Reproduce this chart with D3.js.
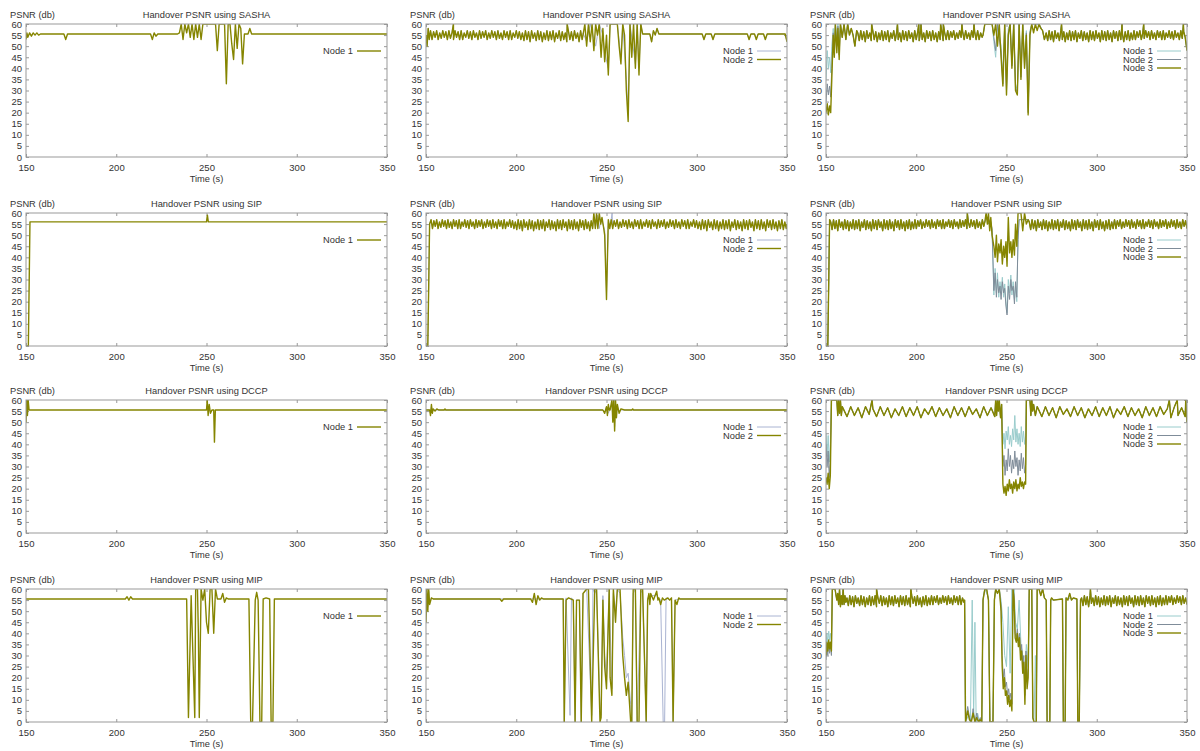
<!DOCTYPE html>
<html>
<head>
<meta charset="utf-8">
<script src="https://cdn.jsdelivr.net/npm/d3@7"></script>
<style>
  body { margin: 0; background: #fff; }
  svg text { font-family: "Liberation Sans", Arial, sans-serif; fill: #333; }
</style>
</head>
<body>
<div id="vis"></div>
<script>
// ---- labels / ticks ----
const protocols = ["SASHA", "SIP", "DCCP", "MIP"];
const nodeLabels = ["Node 1", "Node 2", "Node 3"];
const xTicks = [150, 200, 250, 300, 350];
const yTicks = [0, 5, 10, 15, 20, 25, 30, 35, 40, 45, 50, 55, 60];

// ---- oscillation samples (alternating high / low PSNR) ----
const T1 = [57,53,56.5,54,57,53,56,53.5,57,54,
  56.5,53,57,53.5,56,53,57,54,56.5,53,
  57,53,56,54,57,53.5,56.5,53,57,54,
  56,53,57,53.5,56.5,54,57,53,56,53.5,
  57,54,56.5,53,57,53.5,56,53,57,54,
  56.5,53,57,53,56,54,57,53.5,56.5,53];
const T2 = [56,52.5,57,53,56.5,52,57,53.5,56,52.5,
  57,53,56.5,52,56,53,57,52.5,56.5,53,
  57,52,56,53.5,57,52.5,56.5,53,56,52,
  57,53,56.5,52.5,57,53.5,56,52,57,53,
  56.5,52.5,57,53,56,52,57,53.5,56.5,52.5,
  57,53,56,52,56.5,53,57,52.5,56,53];
const T12 = T1.concat(T2);
const T21 = T2.concat(T1);

// place a run of samples evenly between two times
const spread = (t0, t1, vals) => vals.map((v, i) => [t0 + i * (t1 - t0) / (vals.length - 1), v]);
const series = (...parts) => parts.flat().sort((a, b) => a[0] - b[0]);

// ---- SASHA ----
const sasha1_n1 = [[150,53],[150.5,56],[151,54],[152,56],[153,54.5],[154,56],[155,55],[156,56],[157,55],[158,55.5],
  [171,55.5],[172,53],[173,55.5],[219,55.5],[220,53],[221,56],[222,54.5],[223,55.5],[234,55.5],[235,56],[236,60],
  [237,53],[238,60],[239,56],[240,60],[241,54],[242,60],[243,53],[244,60],[245,54],[246,60],[247,53],[248,60],
  [255,60],[256,48],[257,60],[260,60],[261,33],[262,60],[263,60],[264,51],[265,44],[266,60],[267,49],[268,60],
  [269,58],[270,42],[271,55.5],[273,55.5],[274,58],[275,55.5],[350,55.5]];

const sasha2_start = [[150,55],[150.6,50],[151.2,58],[151.8,53]];
const sasha2_teeth = spread(152.5, 236.5, T12.slice(0, 100));
const sasha2_spikes = [[165.2,60],[228.2,60]];
const sasha2_n1_mid = [[237,56],[239,52],[241,60],[244,50],[246,60],[248,55],[249,47],[251,40],[252,60],[256,60],
  [258,45],[259,60],[261,35],[262,20],[263,60],[266,42],[267,60],[268,40],[269,60],[270,55.5]];
const sasha2_n2_mid = [[237,55],[238,60],[239,50],[240,60],[241,52],[242,60],[243,48],[244,60],[245,55],[246,60],
  [247,45],[248,58],[249,43],[250,55],[251,37],[252,60],[256,60],[257,50],[258,42],[259,60],[260,55],[261,30],
  [262,16],[263,60],[264,45],[265,60],[266,40],[267,60],[268,37],[269,60],[270,55.5]];
const sasha2_tail = [[274,55.5],[275,52],[276,57],[277,55],[278,58],[279,55.5],[303,55.5],[304,53],[305,55.5],
  [308,55.5],[309,53],[310,55.5],[328,55.5],[329,53],[330,55.5],[332,55.5],[333,53],[334,55.5],[337,55.5],
  [338,53],[339,55.5],[349,55.5],[350,52]];
const sasha2_n1 = series(sasha2_start, sasha2_teeth, sasha2_spikes, sasha2_n1_mid, sasha2_tail);
const sasha2_n2 = series(sasha2_start, sasha2_teeth, sasha2_spikes, sasha2_n2_mid, sasha2_tail);

const sasha3_n1_start = [[150,35],[150.7,48],[151.3,40],[152,45],[152.6,38],[153.2,50],[154,58],[154.6,50],[155.2,60],[156,52],[156.6,60],[157.3,50]];
const sasha3_n2_start = [[150,25],[150.7,33],[151.3,28],[152,32],[152.6,27],[153.2,40],[154,56],[154.6,46],[155.2,60],[156,50],[156.6,59],[157.3,46]];
const sasha3_n3_start = [[150,20],[150.7,24],[151.3,19],[152,23],[152.6,20],[153.2,35],[154,55],[154.6,45],[155.2,60],[156,47],[156.6,58],[157.3,44]];
const sasha3_lead = [[158,60],[159,54],[160,60],[161,53],[162,60],[163,55],[164,58],[165,55],[166,50],[167,57]];
const sasha3_teeth = spread(167.6, 236.5, T21.slice(0, 84));
const sasha3_spikes = [[175.3,60],[189.6,60],[201.4,60],[202.6,60],[213.5,60],[215,60],[225.3,60],[232,60]];
const sasha3_n1_mid = [[237,55],[238,60],[242,60],[243,52],[244,45],[245,60],[247,50],[248,35],[249,60],[250,32],
  [251,58],[252,60],[253,42],[254,60],[255,33],[256,30],[257,60],[258,38],[259,60],[260,43],[261,57],[262,22],
  [263,57],[264,60],[266,60],[268,60],[270,57],[271,53]];
const sasha3_n2_mid = [[237,55],[238,60],[242,60],[243,54],[244,48],[245,60],[247,47],[248,33],[249,60],[250,30],
  [251,56],[252,60],[253,41],[254,60],[255,31],[256,29],[257,60],[258,36],[259,60],[260,41],[261,56],[262,20],
  [263,56],[264,60],[266,60],[268,60],[270,57],[271,53]];
const sasha3_n3_mid = [[237,55],[238,60],[242,60],[243,55],[244,60],[245,50],[246,60],[247,45],[248,32],[249,60],
  [250,28],[251,55],[252,60],[253,40],[254,60],[255,30],[256,28],[257,60],[258,35],[259,60],[260,40],[261,55],
  [262,19],[263,55],[264,60],[265,56],[266,60],[267,57],[268,60],[269,58],[270,57],[271,53]];
const sasha3_teeth2 = spread(272, 349, T21.slice(0, 96));
const sasha3_spikes2 = [[280.5,60],[314,60],[326,60],[348,60],[350,48]];
const sasha3_n1 = series(sasha3_n1_start, sasha3_lead, sasha3_teeth, sasha3_spikes, sasha3_n1_mid, sasha3_teeth2, sasha3_spikes2);
const sasha3_n2 = series(sasha3_n2_start, sasha3_lead, sasha3_teeth, sasha3_spikes, sasha3_n2_mid, sasha3_teeth2, sasha3_spikes2);
const sasha3_n3 = series(sasha3_n3_start, sasha3_lead, sasha3_teeth, sasha3_spikes, sasha3_n3_mid, sasha3_teeth2, sasha3_spikes2);

// ---- SIP ----
const sip1_n1 = [[150,0],[151.3,0],[152.2,56],[250,56],[250.5,59],[251,56],[350,56]];

const sip2_start = [[150,0],[151,0],[152,55]];
const sip2_teeth1 = spread(152.8, 242.3, T12.slice(0, 116));
const sip2_teeth2 = spread(252.6, 349.6, T12.slice(0, 120));
const sip2_n1_mid = [[243,58],[244,54],[245,59],[246,53],[247,57],[248,55],[249,52],[250,25],[251,56],[252,54],[253.1,60],[253.5,55]];
const sip2_n2_mid = [[243,60],[243.8,53],[244.5,60],[245.2,53],[246,60],[246.8,55],[247.5,58],[248.3,54],[249,50],[250,21],[251,57],[251.8,53]];
const sip2_n1 = series(sip2_start, sip2_teeth1, sip2_n1_mid, sip2_teeth2, [[350,55]]);
const sip2_n2 = series(sip2_start, sip2_teeth1, sip2_n2_mid, sip2_teeth2, [[350,55]]);

const sip3_start = [[150,0],[151,0],[152,57]];
const sip3_teeth1 = spread(152.6, 237.4, T21.slice(0, 110));
const sip3_spike = [[228.3,60]];
const sip3_n1_mid = [[238,56],[239,58],[240,55],[241,57],[242,52],[243,23],[243.7,35],[244.4,24],[245,33],[245.7,22],
  [246.4,29],[247,24],[247.7,31],[248.4,22],[249,28],[249.7,20],[250.3,15],[251,30],[251.7,24],[252.4,32],[253,23],
  [253.7,29],[254.4,21],[255,27],[255.7,20],[256.4,50],[257,57],[262,57]];
const sip3_n2_mid = [[238,56],[239,58],[240,55],[241,57],[242,53],[243,25],[243.7,33],[244.4,22],[245,30],[245.7,24],
  [246.4,27],[247,21],[247.7,29],[248.4,24],[249,26],[249.7,18],[250.3,14],[251,27],[251.7,21],[252.4,30],[253,25],
  [253.7,27],[254.4,19],[255,29],[255.7,22],[256.4,48],[257,57],[262,57]];
const sip3_n3_mid = [[238,56],[238.7,60],[239.4,55],[240,60],[240.7,52],[241.3,58],[242,50],[243,45],[243.7,40],
  [244.4,50],[245,38],[245.7,46],[246.4,42],[247,48],[247.7,37],[248.4,45],[249,40],[249.7,47],[250.3,36],[251,58],
  [251.7,42],[252.4,47],[253,40],[253.7,48],[254.4,41],[255,55],[255.7,45],[256.4,60],[258,60],[259,52],[260,60],
  [261,55],[262,57]];
const sip3_teeth2 = spread(262.6, 350, T21.slice(0, 112));
const sip3_n1 = series(sip3_start, sip3_teeth1, sip3_spike, sip3_n1_mid, sip3_teeth2);
const sip3_n2 = series(sip3_start, sip3_teeth1, sip3_spike, sip3_n2_mid, sip3_teeth2);
const sip3_n3 = series(sip3_start, sip3_teeth1, sip3_spike, sip3_n3_mid, sip3_teeth2);

// ---- DCCP ----
const dccp1_n1 = [[150,50],[150.4,60],[150.8,53],[151.2,60],[151.7,55.5],[250,55.5],[250.4,60],[250.9,53],[251.5,58],
  [252.2,54],[253,55.5],[254,55.5],[254.4,41],[254.9,55.5],[350,55.5]];

const dccp2_n1 = [[150,55.5],[152,55.5],[152.5,54],[153,57],[153.5,55],[154,55.5],[248,55.5],[249,54.5],[250,57],
  [251,54],[252,56],[253,59],[253.5,52],[254,60],[254.5,48],[255,58],[255.5,53],[256,57],[257,55],[258,55.5],[350,55.5]];
const dccp2_n2 = [[150,55.5],[152,55.5],[152.5,53],[153,58],[153.5,54],[154,56],[155,55],[156,56],[157,55.5],[160,55.5],
  [160.5,56],[161,55.5],[248,55.5],[249,54],[250,57],[250.5,53],[251,58],[251.5,55.5],[252,55.5],[253,60],[253.5,50],
  [254,60],[254.5,46],[255,60],[255.5,52],[256,58],[257,54],[258,56],[260,55.5],[264,55.5],[264.5,56],[265,55.5],[350,55.5]];

const dccp3_n1_start = [[150,45],[150.6,35],[151.2,44],[151.8,32],[152.4,40]];
const dccp3_n2_start = [[150,40],[150.6,30],[151.2,37],[151.8,25],[152.4,33]];
const dccp3_n3_start = [[150,25],[150.6,22],[151.2,27],[151.8,20],[152.4,26]];
const dccp3_lead = [[153,60],[156,60],[156.5,53],[157,60],[157.5,54],[158,60],[158.5,53],[159,57],[175.5,60]];
const dccp3_teeth1 = spread(159.6, 243.5, T2.slice(0, 42));
const dccp3_pre = [[244,60],[244.5,53],[245,60],[245.5,55],[246,60],[246.7,52],[247.3,58]];
const dccp3_n1_mid = [[248,40],[248.6,45],[249.2,38],[249.8,46],[250.4,42],[251,48],[251.6,40],[252.2,44],[252.8,39],
  [253.4,47],[254,42],[254.6,53],[255.2,41],[255.8,47],[256.4,40],[257,45],[257.6,39],[258.2,48],[258.8,41],
  [259.4,46],[260,40],[260.6,44],[261,60]];
const dccp3_n2_mid = [[248,30],[248.6,35],[249.2,26],[249.8,33],[250.4,28],[251,38],[251.6,30],[252.2,35],[252.8,27],
  [253.4,33],[254,29],[254.6,37],[255.2,30],[255.8,34],[256.4,26],[257,33],[257.6,28],[258.2,36],[258.8,29],
  [259.4,34],[260,27],[260.6,31],[261,60]];
const dccp3_n3_mid = [[248,22],[248.6,18],[249.2,21],[249.8,17],[250.4,22],[251,19],[251.6,24],[252.2,20],[252.8,22],
  [253.4,18],[254,23],[254.6,20],[255.2,24],[255.8,19],[256.4,22],[257,20],[257.6,25],[258.2,21],[258.8,23],
  [259.4,20],[260,23],[260.6,22],[261,60]];
const dccp3_post = [[263,60],[263.5,53],[264,60],[264.5,55],[265,58],[266,53],[267,57]];
const dccp3_teeth2 = spread(267.6, 349, T2.slice(0, 42));
const dccp3_end = [[340.2,60],[344.6,60],[349.3,60],[350,50]];
const dccp3_n1 = series(dccp3_n1_start, dccp3_lead, dccp3_teeth1, dccp3_pre, dccp3_n1_mid, dccp3_post, dccp3_teeth2, dccp3_end);
const dccp3_n2 = series(dccp3_n2_start, dccp3_lead, dccp3_teeth1, dccp3_pre, dccp3_n2_mid, dccp3_post, dccp3_teeth2, dccp3_end);
const dccp3_n3 = series(dccp3_n3_start, dccp3_lead, dccp3_teeth1, dccp3_pre, dccp3_n3_mid, dccp3_post, dccp3_teeth2, dccp3_end);

// ---- MIP ----
const mip1_n1 = [[150,55.5],[205,55.5],[206,56.5],[207,55],[208,56.5],[209,55.5],[239,55.5],[240,2],[241.5,57],
  [243.5,2],[244,60],[245,60],[245.5,40],[246,2],[247,60],[248,55],[249,60],[250,45],[251,40],[252,60],[253,60],
  [254,40],[255,60],[256,55.5],[258,55.5],[259,58],[260,54],[261,56],[262,55.5],[273.5,55.5],[274.5,0],[275.5,0],
  [277,55],[277.8,58.5],[278.6,55],[279.6,0],[280.6,0],[281.4,55.5],[283,56],[285,55.5],[285.8,0],[286.8,0],
  [287.6,55.5],[350,55.5]];

const mip2_n1 = [[150,48],[150.5,58],[151,52],[151.5,59],[152,54],[153,56],[154,55.5],[226,55.5],[226.6,0],[227.6,56],
  [229.8,3],[230.6,56],[231.6,55],[232.6,0],[233.4,55],[235,55],[236,0],[237,58],[239,60],[241.8,3],[242.5,60],
  [243.5,58],[244.5,60],[246.4,5],[247,3],[248,57],[249,30],[250,20],[251.5,60],[252.5,28],[253,15],[253.8,58],
  [255,50],[256,60],[257.5,58],[258.5,45],[259,38],[260,30],[261,20],[262,22],[263.4,8],[264,0],[264.8,58],
  [266,60],[267,0],[269,58],[270,60],[272,0],[272.8,56],[274.5,57],[277.8,57],[280,55],[281.4,0],[282.2,0],
  [283,56],[285,55],[286,56],[286.9,0],[288,55],[290.7,55.5],[350,55.5]];
const mip2_n2 = [[150,45],[150.5,60],[151,50],[151.5,60],[152,53],[153,56],[154,55.5],[191,55.5],[192,54.5],[193,55.5],
  [208,55.5],[209,54],[210,58],[211,53],[212,57],[213,55],[214,56],[215,55.5],[226,55.5],[226.6,0],[227.6,55],
  [229,56],[231.6,55],[232.6,0],[233.4,55],[235,55],[236,0],[237,58],[239,60],[240,60],[241.8,0],[243.5,60],
  [244.5,60],[246.4,0],[247,2],[248,55],[249,25],[250,15],[251.5,60],[252,20],[253,12],[253.8,60],[255,45],
  [256,60],[257.5,60],[258.5,40],[259,30],[260,20],[261,12],[262,18],[263.4,0],[264,0],[264.8,60],[266,60],
  [267,0],[268,0],[269,60],[270,60],[272,0],[272.8,55],[273.5,58],[274,53],[274.5,58],[276,55],[277.8,59],
  [278.5,55],[279,56],[280,53],[281,56],[282,55],[284,56],[285,55],[286,56],[286.9,0],[288,55],[289,53],[290,56],
  [290.7,55.5],[350,55.5]];

const mip3_n1_start = [[150,35],[150.5,40],[151,36],[151.5,41],[152,37],[152.5,40],[153,36]];
const mip3_n2_start = [[150,28],[150.5,34],[151,30],[151.5,36],[152,31],[152.5,35],[153,30]];
const mip3_n3_start = [[150,30],[150.5,36],[151,32],[151.5,37],[152,33],[152.5,36],[153,32]];
const mip3_lead = [[153.5,60],[155,60],[156,55],[156.5,58],[157,53],[157.5,60],[158,52],[158.5,57],[159,53],
  [159.5,60],[160,53],[160.5,57],[161,54],[178,60],[197,60]];
const mip3_teeth1 = spread(161.6, 226.4, T21.slice(0, 84));
const mip3_n1_mid = [[226.8,55],[227.3,0],[229,3],[230,0],[231,55],[231.8,2],[232.5,45],[233.2,0],[234,4],[235,0],
  [236.3,0],[237,56],[238,60],[240,56],[240.8,0],[242.5,0],[243.3,56],[244,60],[245,58],[246,60],[247,55],[248,45],
  [249,30],[250,25],[251,52],[252,22],[253,60],[253.6,50],[254.2,60],[255,45],[256,42],[257,55],[258,35],[259,30],
  [260,20],[261,35],[262,25],[262.6,60],[264,60],[264.6,2],[265.2,0],[266,30],[266.5,0],[267,60],[268,60],[270,60],
  [271,56],[272,55],[272.5,0],[274,0],[274.5,55],[281,55.5],[281.5,0],[282.5,0],[283,56],[289,55.5],[289.5,0],
  [290.3,0],[291,55]];
const mip3_n2_mid = [[226.8,55],[227.3,0],[228.5,7],[229.5,2],[230.5,0],[231.5,6],[232.5,0],[233.5,4],[234.5,0],
  [235.5,2],[236.3,0],[237,55],[238,60],[239,60],[240,55],[240.8,0],[242.5,0],[243.3,55],[244,60],[245,58],[246,60],
  [247,52],[247.6,30],[248.2,20],[248.8,24],[249.4,16],[250,18],[250.6,12],[251.2,15],[251.8,10],[252.4,13],[253,8],
  [253.6,60],[254.2,57],[254.8,40],[255.4,38],[256,42],[256.6,36],[257.2,40],[257.8,31],[258.4,35],[259,25],
  [259.6,30],[260.2,12],[260.8,32],[261.4,18],[262,24],[262.6,60],[264,60],[264.6,2],[265.2,0],[266.5,0],[267,60],
  [268,60],[269,57],[270,60],[271,56],[272,55],[272.5,0],[274,0],[274.5,55],[275,56],[276,55],[281,55.5],[281.5,0],
  [282.5,0],[283,56],[284,55],[285,58],[286,55],[287,56],[289,55.5],[289.5,0],[290.3,0],[291,55]];
const mip3_n3_mid = [[226.8,55],[227.3,0],[228.5,5],[229.5,1],[230.5,0],[231.5,4],[232.5,0],[233.5,2],[234.5,0],
  [235.5,1],[236.3,0],[237,55],[238,60],[239,60],[240,55],[240.8,0],[242.5,0],[243.3,55],[244,60],[245,58],[246,60],
  [247,50],[247.6,25],[248.2,15],[248.8,20],[249.4,12],[250,14],[250.6,8],[251.2,12],[251.8,7],[252.4,10],[253,5],
  [253.6,60],[254.2,55],[254.8,38],[255.4,36],[256,40],[256.6,34],[257.2,38],[257.8,28],[258.4,32],[259,22],
  [259.6,27],[260.2,8],[260.8,30],[261.4,15],[262,20],[262.6,60],[264,60],[264.6,2],[265.2,0],[266.5,0],[267,60],
  [268,60],[269,57],[270,60],[271,56],[272,55],[272.5,0],[274,0],[274.5,55],[275,56],[276,55],[281,55.5],[281.5,0],
  [282.5,0],[283,56],[284,55],[285,58],[286,55],[287,56],[289,55.5],[289.5,0],[290.3,0],[291,55]];
const mip3_teeth2 = spread(291.6, 350, T21.slice(0, 76));
const mip3_spike = [[296.5,60]];
const mip3_n1 = series(mip3_n1_start, mip3_lead, mip3_teeth1, mip3_n1_mid, mip3_teeth2, mip3_spike);
const mip3_n2 = series(mip3_n2_start, mip3_lead, mip3_teeth1, mip3_n2_mid, mip3_teeth2, mip3_spike);
const mip3_n3 = series(mip3_n3_start, mip3_lead, mip3_teeth1, mip3_n3_mid, mip3_teeth2, mip3_spike);

// table of panels: row = protocol, column = number of nodes
const panelSeries = [
  [[sasha1_n1], [sasha2_n1, sasha2_n2], [sasha3_n1, sasha3_n2, sasha3_n3]],
  [[sip1_n1], [sip2_n1, sip2_n2], [sip3_n1, sip3_n2, sip3_n3]],
  [[dccp1_n1], [dccp2_n1, dccp2_n2], [dccp3_n1, dccp3_n2, dccp3_n3]],
  [[mip1_n1], [mip2_n1, mip2_n2], [mip3_n1, mip3_n2, mip3_n3]]
];

// colours by number of nodes in the panel
const olive = "#858500";
const palettes = [[olive], ["#aab4d2", olive], ["#99cccc", "#7f8c99", olive]];

// ---- layout ----
const colX = [0, 400, 800];
const rowY = [24, 213, 400, 589];
const plotLeft = 26, plotW = 361, plotH = 133;

const svg = d3.select("#vis").append("svg")
  .attr("width", 1200)
  .attr("height", 751);

const x = d3.scaleLinear().domain([150, 350]).range([0, plotW]);
const y = d3.scaleLinear().domain([0, 60]).range([plotH, 0]);
const line = d3.line().x(d => x(d[0])).y(d => y(d[1]));

protocols.forEach((proto, r) => {
  panelSeries[r].forEach((lines, c) => {
    const g = svg.append("g")
      .attr("transform", `translate(${colX[c] + plotLeft},${rowY[r]})`);
    const clipId = `clip-${r}-${c}`;
    g.append("clipPath").attr("id", clipId)
      .append("rect").attr("width", plotW).attr("height", plotH);

    // axes with inward ticks, mirrored on top / right
    const tickStyle = sel => {
      sel.select(".domain").remove();
      sel.selectAll(".tick line").attr("stroke", "#999");
      sel.selectAll(".tick text").attr("font-size", 9.5).attr("fill", "#333");
    };
    g.append("g")
      .call(d3.axisLeft(y).tickValues(yTicks).tickSize(-3).tickPadding(4))
      .call(tickStyle);
    g.append("g").attr("transform", `translate(${plotW},0)`)
      .call(d3.axisRight(y).tickValues(yTicks).tickSize(-3).tickFormat(""))
      .call(tickStyle);
    g.append("g").attr("transform", `translate(0,${plotH})`)
      .call(d3.axisBottom(x).tickValues(xTicks).tickSize(-3).tickPadding(7))
      .call(tickStyle);
    g.append("g")
      .call(d3.axisTop(x).tickValues(xTicks).tickSize(-3).tickFormat(""))
      .call(tickStyle);

    g.selectAll("text").attr("font-family", null);

    // data lines
    const colors = palettes[lines.length - 1];
    g.append("g").attr("clip-path", `url(#${clipId})`)
      .selectAll("path")
      .data(lines)
      .enter().append("path")
      .attr("d", line)
      .attr("fill", "none")
      .attr("stroke", (d, i) => colors[i])
      .attr("stroke-width", (d, i) => i === lines.length - 1 ? 1.4 : 1)
      .attr("stroke-linejoin", "round");

    // frame
    g.append("rect")
      .attr("width", plotW)
      .attr("height", plotH)
      .attr("fill", "none")
      .attr("stroke", "#999")
      .attr("stroke-width", 1);

    // titles
    g.append("text")
      .attr("x", plotW / 2)
      .attr("y", -6)
      .attr("text-anchor", "middle")
      .attr("font-size", 9.3)
      .text(`Handover PSNR using ${proto}`);
    g.append("text")
      .attr("x", -16)
      .attr("y", -6)
      .attr("font-size", 9.3)
      .text("PSNR (db)");
    g.append("text")
      .attr("x", plotW / 2)
      .attr("y", plotH + 25)
      .attr("text-anchor", "middle")
      .attr("font-size", 9.3)
      .text("Time (s)");

    // legend
    const legend = g.append("g");
    lines.forEach((d, i) => {
      const ly = 27 + i * 8.5;
      legend.append("text")
        .attr("x", 327)
        .attr("y", ly)
        .attr("dy", "0.35em")
        .attr("text-anchor", "end")
        .attr("font-size", 9.3)
        .text(nodeLabels[i]);
      legend.append("line")
        .attr("x1", 331).attr("x2", 355)
        .attr("y1", ly).attr("y2", ly)
        .attr("stroke", colors[i])
        .attr("stroke-width", i === lines.length - 1 ? 1.4 : 1);
    });
  });
});
</script>
</body>
</html>
